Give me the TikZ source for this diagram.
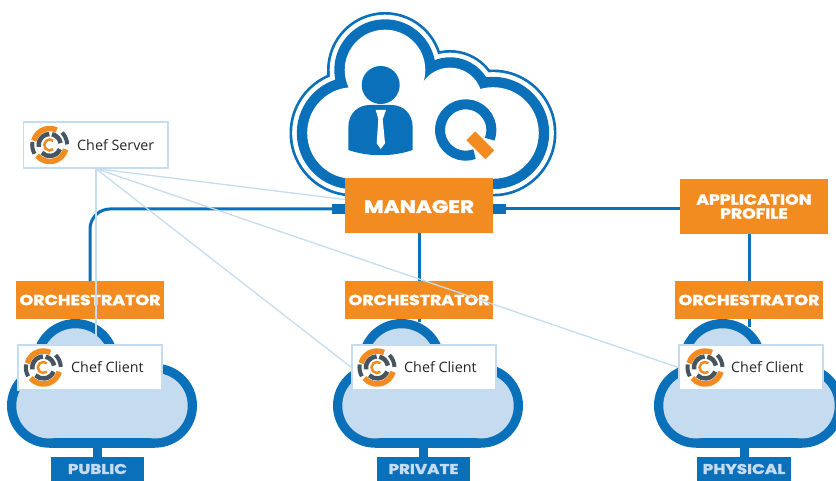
\documentclass[tikz,border=0pt]{standalone}
\usepackage{fontspec}
\setmainfont{Open Sans}
\newfontfamily\headfont[FakeStretch=1.2,FakeBold=2]{Poppins Bold}
\usetikzlibrary{positioning,calc}
\definecolor{qblue}{HTML}{0A70BA}
\definecolor{qlight}{HTML}{C5DCF0}
\definecolor{qorange}{HTML}{F28C20}
\definecolor{qgrey}{HTML}{46555F}

% the cloud of the manager, every layer #2 smaller than the outline
\newcommand{\bigcloud}[2]{
  \fill[#1] (385,70) circle[radius=58-#2];
  \fill[#1] (450,100) circle[radius=50-#2];
  \fill[#1] (353,133) circle[radius=63.5-#2];
  \fill[#1] (493,133) circle[radius=63.5-#2];
  \fill[#1] (385,70) -- (450,100) -- (493,133) -- (353,133) -- cycle;
  \fill[#1] (353,133) rectangle (493,196.5-#2);
}
% the small clouds
\newcommand{\smallcloud}[3]{
  \fill[#2] (#1+68.5,362) circle[radius=43-#3];
  \fill[#2] (#1+42,405.7) circle[radius=42-#3];
  \fill[#2] (#1+148,405.7) circle[radius=42-#3];
  \fill[#2] (#1+42,447.7-#3) rectangle (#1+148,364);
}
\newcommand{\chefring}[5]{
  \draw[#1,line width=#2] (#3:#5) arc[start angle=#3,end angle=#4,radius=#5];
}

\tikzset{
  orangebox/.style={fill=qorange,text=white,inner sep=0pt,align=center,
      font=\headfont\fontsize{14.5}{14}\selectfont},
  placebox/.style={fill=qblue,text=qlight,inner sep=0pt,minimum width=93.5pt,minimum height=24pt,
      font=\headfont\fontsize{14}{14}\selectfont},
  chefbox/.style={draw=qlight,line width=1.2pt,fill=white,minimum width=144pt,minimum height=45pt,
      inner sep=0pt},
  cheftext/.style={inner sep=0pt,text=black!85,font=\fontsize{14.3}{16}\selectfont,anchor=west},
  bus/.style={draw=qblue,line width=3pt},
  stem/.style={draw=qblue,line width=9pt},
  stub/.style={fill=qblue,minimum width=13pt,minimum height=10pt,inner sep=0pt},
  wire/.style={draw=qlight,line width=1.3pt},
  cheflogo/.pic={
    \chefring{qorange}{5.5pt}{195}{295}{16.5}
    \chefring{qorange}{5.5pt}{15}{140}{16.5}
    \chefring{qgrey}{4pt}{150}{190}{17.5}
    \chefring{qgrey}{4pt}{315}{358}{17.5}
    \chefring{qgrey}{4.5pt}{170}{268}{11}
    \chefring{qgrey}{4.5pt}{282}{350}{11}
    \chefring{qgrey}{4.5pt}{22}{135}{11}
    \chefring{qorange}{2.5pt}{50}{310}{5.5}
  }
}

\begin{document}
\begin{tikzpicture}[x=1pt,y=-1pt]
\useasboundingbox (0,0) rectangle (836,481);
% clouds
\bigcloud{qblue}{0}
\bigcloud{white}{2.7}
\bigcloud{qblue}{7.3}
\bigcloud{white}{17.7}
\smallcloud{7}{qblue}{0}
\smallcloud{7}{qlight}{9.3}
\smallcloud{333}{qblue}{0}
\smallcloud{333}{qlight}{9.3}
\smallcloud{654}{qblue}{0}
\smallcloud{654}{qlight}{9.3}
% person and q
\fill[qblue] (380.7,85) circle[radius=19];
\fill[qblue] (348.3,150) -- (348.3,128) .. controls (348.3,113) and (358,105) .. (370,105)
  -- (391,105) .. controls (403,105) and (412.7,113) .. (412.7,128) -- (412.7,150)
  .. controls (392,157) and (369,157) .. (348.3,150) -- cycle;
\fill[white] (375.7,110) -- (386,110) -- (382.7,119.3) -- (385,143.3) -- (380.7,149)
  -- (376.7,143.3) -- (378.3,119.3) -- cycle;
\draw[qblue,line width=10pt] (465.7,130) ++(70:25.7) arc[start angle=70,end angle=381,radius=25.7];
\node[fill=qorange,minimum width=27pt,minimum height=12.5pt,inner sep=0pt,rotate=-45] (qbar) at (480.3,145.3) {};
% boxes
\node[stub] (stubl) at (338.5,209) {};
\node[stub] (stubr) at (499.5,209) {};
\node[orangebox,minimum width=148pt,minimum height=55pt,text height=15pt,font=\headfont\fontsize{18}{18}\selectfont] (manager) at (419,205.5) {MANAGER};
\node[orangebox,minimum width=148pt,minimum height=55pt,font=\headfont\fontsize{14.4}{14}\selectfont] (profile) at (754,206.5) {APPLICATION\\PROFILE};
\node[orangebox,minimum width=148pt,minimum height=38pt] (pubo) at (90,300) {ORCHESTRATOR};
\node[orangebox,minimum width=148pt,minimum height=38pt] (privo) at (419,300) {ORCHESTRATOR};
\node[orangebox,minimum width=148pt,minimum height=38pt] (physo) at (749,300) {ORCHESTRATOR};
\node[placebox] (publ) at (97.5,469) {PUBLIC};
\node[placebox] (priv) at (423.5,469) {PRIVATE};
\node[placebox] (phys) at (744,469) {PHYSICAL};
\coordinate (pubc) at (97.5,445);
\coordinate (privc) at (423.5,445);
\coordinate (physc) at (744,445);
\coordinate (privt) at (419,322);
\coordinate (physt) at (749,327);
% connectors
\draw[bus,rounded corners=20pt] (stubl.west) -| (pubo.north);
\draw[bus] (stubr.east) -- (profile.west |- stubr);
\draw[bus] (manager.south) -- (privo.north);
\draw[bus] (physo.north) -- (physo.north |- profile.south);
\draw[bus] (privo.south) -- (privt);
\draw[bus] (physo.south) -- (physt);
\draw[stem] (pubc) -- (publ.north);
\draw[stem] (privc) -- (priv.north);
\draw[stem] (physc) -- (phys.north);
% chef
\node[chefbox,minimum width=144.5pt,minimum height=46pt] (server) at (95.75,145) {};
\node[chefbox] (pubclient) at (90,367.5) {};
\node[chefbox] (privclient) at (424,367.5) {};
\node[chefbox] (physclient) at (751,367.5) {};
\draw[wire] (server.south) -- ([yshift=6pt]manager.west);
\draw[wire,line width=2pt] (server.south) -- (pubclient.north -| server.south);
\draw[wire] (server.south) -- (privclient.west);
\draw[wire] (server.south) -- (physclient.west);
\pic at (49.7,145) {cheflogo};
\pic at (43.3,367.5) {cheflogo};
\pic at (377,367.5) {cheflogo};
\pic at (705,367.5) {cheflogo};
\node[cheftext] (servertext) at (77,145) {Chef Server};
\node[cheftext] (pubtext) at (71,367.5) {Chef Client};
\node[cheftext] (privtext) at (404,367.5) {Chef Client};
\node[cheftext] (phystext) at (731,367.5) {Chef Client};
\end{tikzpicture}
\end{document}
